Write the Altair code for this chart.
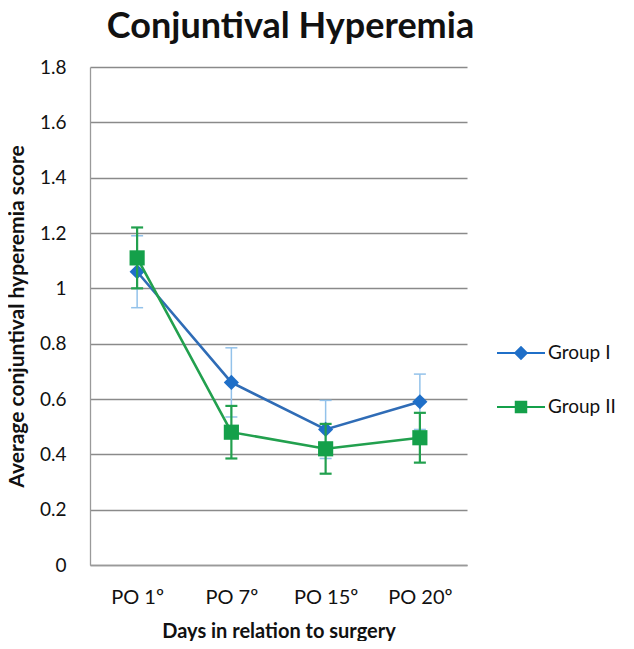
import altair as alt
import pandas as pd

days = ["PO 1º", "PO 7º", "PO 15º", "PO 20º"]
groups = ["Group I", "Group II"]
g1_mean = [1.06, 0.66, 0.49, 0.59]
g1_err = [0.13, 0.125, 0.105, 0.10]
g2_mean = [1.11, 0.48, 0.42, 0.46]
g2_err = [0.11, 0.095, 0.09, 0.09]
y_ticks = [0, 0.2, 0.4, 0.6, 0.8, 1.0, 1.2, 1.4, 1.6, 1.8]

line_colors = ["#2f6cb6", "#22a04e"]
marker_colors = ["#1f6fc8", "#14a04a"]
err_colors = ["#93c2ea", "#22a04e"]
err_widths = [1.5, 2.2]
shapes = ["diamond", "square"]
legend_paths = [
    "M-1,-0.045H1V0.045H-1Z M0,-0.3L0.3,0L0,0.3L-0.3,0Z",
    "M-1,-0.045H1V0.045H-1Z M-0.26,-0.26H0.26V0.26H-0.26Z",
]

rows = []
for g, means, errs in [(groups[0], g1_mean, g1_err), (groups[1], g2_mean, g2_err)]:
    for d, m, e in zip(days, means, errs):
        rows.append({"day": d, "group": g, "mean": m, "lo": m - e, "hi": m + e})
df = pd.DataFrame(rows)

FONT = "Lato"

X = alt.X(
    "day:N",
    sort=days,
    scale=alt.Scale(type="point", padding=0.5),
    axis=alt.Axis(
        title="Days in relation to surgery",
        labelAngle=0,
        labelFont=FONT,
        labelFontSize=20,
        labelColor="#111",
        labelPadding=22,
        ticks=False,
        grid=False,
        domainColor="#9a9a9a",
        domainWidth=1.3,
        titleFont=FONT,
        titleFontSize=20,
        titleFontWeight="bold",
        titleColor="#111",
        titlePadding=14,
    ),
)


def Y(field):
    return alt.Y(
        f"{field}:Q",
        scale=alt.Scale(domain=[0, 1.8], nice=False, zero=True),
        axis=alt.Axis(
            title="Average conjuntival hyperemia score",
            values=y_ticks,
            format="~g",
            labelFont=FONT,
            labelFontSize=19,
            labelColor="#111",
            labelPadding=24,
            ticks=False,
            grid=True,
            gridColor="#8a8a8a",
            gridWidth=1.3,
            domainColor="#9a9a9a",
            domainWidth=1.3,
            titleFont=FONT,
            titleFontSize=21,
            titleFontWeight="bold",
            titleColor="#111",
            titlePadding=12,
        ),
    )


base = alt.Chart(df)
layers = []
for i, g in enumerate(groups):
    sub = base.transform_filter(alt.datum.group == g)
    layers.append(
        sub.mark_rule(color=err_colors[i], strokeWidth=err_widths[i]).encode(
            x=X, y=Y("lo"), y2="hi:Q"
        )
    )
    layers.append(
        sub.mark_tick(color=err_colors[i], size=12, thickness=err_widths[i], opacity=1).encode(
            x=X, y=Y("lo")
        )
    )
    layers.append(
        sub.mark_tick(color=err_colors[i], size=12, thickness=err_widths[i], opacity=1).encode(
            x=X, y=Y("hi")
        )
    )
    layers.append(
        sub.mark_line(color=line_colors[i], strokeWidth=2.6).encode(x=X, y=Y("mean"))
    )
    layers.append(
        sub.mark_point(
            shape=shapes[i], filled=True, size=230, color=marker_colors[i], opacity=1
        ).encode(x=X, y=Y("mean"))
    )

leg = alt.Legend(
    title=None,
    orient="none",
    legendX=407,
    legendY=262,
    labelFont=FONT,
    labelFontSize=19,
    labelColor="#111",
    labelOffset=3,
    symbolSize=2304,
    symbolStrokeWidth=0,
    rowPadding=20,
    padding=0,
)

legend_layer = (
    base.transform_filter("datum.mean < 0")
    .mark_point(filled=True, size=2304, opacity=1, strokeWidth=0)
    .encode(
        x=X,
        y=Y("mean"),
        shape=alt.Shape("group:N", scale=alt.Scale(domain=groups, range=legend_paths), legend=leg),
        fill=alt.Fill("group:N", scale=alt.Scale(domain=groups, range=marker_colors), legend=leg),
    )
)
layers.append(legend_layer)

chart = (
    alt.layer(*layers)
    .properties(
        width=377,
        height=498,
        autosize=alt.AutoSizeParams(type="none"),
        padding={"left": 82, "top": 59, "right": 159, "bottom": 76},
        title=alt.TitleParams(
            "Conjuntival Hyperemia",
            font=FONT,
            fontSize=36,
            fontWeight="bold",
            color="#111",
            anchor="middle",
            dx=12,
            offset=12,
        ),
        background="white",
    )
    .configure_view(stroke=None)
)

chart.save("out.html", embed_options={"renderer": "svg", "actions": False})
